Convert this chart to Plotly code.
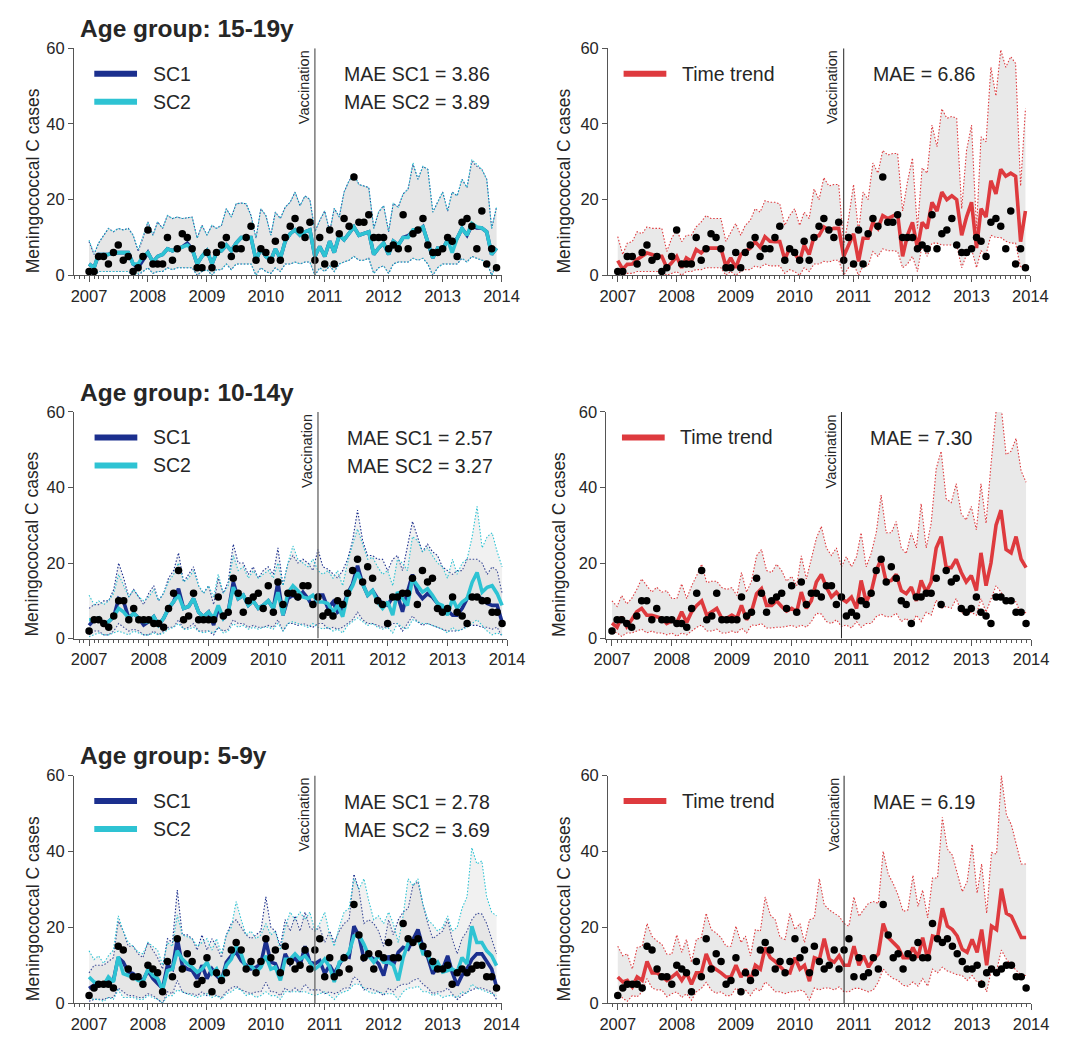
import pandas as pd
import plotly.graph_objects as go

# ---------------------------------------------------------------- data
months = pd.date_range("2007-01-01", periods=84, freq="MS")
vaccination_date = "2010-11-01"

# 15-19 years
obs_15_19 = [1, 1, 5, 5, 3, 6, 8, 4, 5, 1, 2, 5,
             12, 3, 3, 3, 10, 4, 7, 11, 10, 7, 2, 2,
             6, 2, 6, 8, 10, 5, 7, 7, 10, 13, 4, 7,
             6, 4, 9, 4, 10, 13, 15, 12, 10, 14, 4, 10,
             3, 12, 3, 11, 15, 13, 26, 14, 14, 16, 10, 10,
             10, 7, 8, 7, 16, 7, 11, 12, 15, 8, 6, 6,
             7, 10, 9, 5, 14, 15, 13, 7, 17, 3, 7, 2]
sc1_15_19 = [3, 2, 5.5, 5.5, 5.5, 6, 6, 6, 6, 3, 2, 4,
             6, 3.5, 5, 5.5, 7, 6.5, 7, 7.5, 8.5, 7, 3, 5,
             6.5, 3, 6, 6.5, 8, 6.5, 8.5, 10, 10, 10, 4, 7,
             5, 4, 7, 4.5, 9, 11, 12, 10.6, 11.5, 12, 5, 7.6,
             5, 9, 6, 10.6, 9.4, 11, 12.8, 10.6, 11, 11.5, 5.5, 7.2,
             8.5, 5.5, 9, 8, 10, 10.5, 11.5, 11.5, 12.8, 8.5, 4.6, 7.2,
             6.8, 9.4, 8.5, 9.8, 12.4, 10.6, 13.2, 12.5, 12.5, 11.5, 5.5, 7.2]
sc2_15_19 = [3, 2, 5.5, 5.5, 5.5, 6, 6, 6, 6, 3, 3, 5,
             6, 3.5, 5, 5.5, 7, 6.5, 7, 7.5, 8, 7, 3, 5,
             6.5, 3, 6, 6.5, 8, 6.5, 8.5, 10, 10, 10, 4, 7,
             5, 4, 7, 4.5, 9, 11, 12, 10.6, 11.5, 12, 5, 7.6,
             5, 9, 6, 10.6, 9.4, 11, 12.8, 10.6, 11, 11.5, 5.5, 7.2,
             8.5, 5.5, 9, 8, 10, 10, 12, 12, 12.8, 8.5, 4.6, 7.2,
             6.8, 9.4, 6, 9.8, 12.4, 10.6, 13.7, 12.8, 12.5, 11.5, 5.5, 7.2]
sc1_hi_15_19 = [8.9, 5.5, 8.5, 10.6, 12.4, 11.5, 12.4, 12, 12.4, 10.6, 6.3, 9.8,
                14.1, 10.6, 14.1, 12.4, 15.8, 15, 15.4, 15, 15.2, 15.4, 9.8, 13.2,
                10.6, 13.2, 12.4, 13.2, 17.6, 15.4, 18.9, 19.1, 18.9, 15.8, 9.8, 17.6,
                15.8, 10.6, 16.7, 15, 18, 19.3, 22, 18.4, 21, 20, 11.5, 14.5,
                17, 11.5, 17.7, 15.4, 22, 25, 26.7, 24, 23.6, 23.2, 12.4, 16.7,
                18.4, 11.5, 19, 18, 21.5, 22.8, 29.3, 25.4, 28.8, 28, 16.7, 19.3,
                22, 17, 22, 21, 25.4, 23.2, 30.1, 28.8, 28, 25.4, 12.4, 18]
sc2_hi_15_19 = [9.3, 5.8, 8.5, 10.6, 12.4, 11.5, 12.4, 12, 12.4, 10.6, 6.8, 10.2,
                14.1, 10.6, 14.1, 12.4, 15.8, 15, 15.4, 15, 15.2, 15.4, 9.8, 13.2,
                10.6, 13.2, 12.4, 13.2, 17.6, 15.4, 18.9, 19.1, 18.9, 15.8, 9.8, 17.6,
                15.8, 10.6, 16.7, 15, 18, 19.3, 22, 18.4, 21, 20, 11.5, 14.5,
                17, 11.5, 17.7, 15.4, 22, 25, 26.7, 24, 23.6, 23.2, 12.4, 16.7,
                18.4, 11.5, 19, 18, 21.5, 22.8, 29.8, 25.4, 28.8, 28, 16.7, 19.3,
                22, 17, 22, 21, 25.4, 23.2, 30.6, 29.3, 28, 25.4, 12.4, 18]
sc1_lo_15_19 = [1, 0, 1, 1, 1, 1, 1, 1, 1, 0, 0, 1,
                2, 0.5, 1, 1, 2, 1.5, 2, 2, 2, 2, 0, 1,
                1.5, 0, 1.5, 1.5, 3, 1.5, 3, 3, 3, 3, 0, 2,
                1, 0.5, 2, 1, 3, 3, 3.5, 3, 3.5, 3.5, 0, 2,
                1, 2.5, 1, 3, 3.5, 4, 5, 4, 4, 4.5, 0.5, 2,
                2.5, 0.5, 3, 3.5, 3.5, 3.5, 4.5, 4, 4.5, 3, 0, 2,
                3, 3, 3, 3, 4.5, 3.5, 5, 4.5, 4, 3.5, 0, 3]
sc2_lo_15_19 = [1, 0, 1, 1, 1, 1, 1, 1, 1, 0, 0.5, 1,
                2, 0.5, 1, 1, 2, 1.5, 2, 2, 2, 2, 0, 1,
                1.5, 0, 1.5, 1.5, 3, 1.5, 3, 3, 3, 3, 0, 2,
                1, 0.5, 2, 1, 3, 3, 3.5, 3, 3.5, 3.5, 0, 2,
                1, 2.5, 1, 3, 3.5, 4, 5, 4, 4, 4.5, 0.5, 2,
                2.5, 0.5, 3, 3.5, 3.5, 3.5, 4.5, 4, 4.5, 3, 0, 2,
                3, 3, 3, 3, 4.5, 3.5, 5, 4.5, 4, 3.5, 0, 3]
tt_15_19 = [3.9, 1.6, 2.9, 3, 4.2, 5, 5.9, 5.5, 5, 5, 2, 3.3,
            5, 2, 4.6, 3.7, 6.8, 5.9, 7.2, 7.2, 7.2, 7.2, 2.4, 4.6,
            2, 5.5, 6.3, 7.2, 8.9, 7.4, 10.2, 9, 8.9, 8.9, 4.2, 7.2,
            5.9, 3.7, 8, 5.5, 10.2, 10.5, 12.8, 12, 12.4, 12.4, 5, 8,
            11, 3.7, 9.8, 9.8, 14, 12.4, 15.8, 15, 15.8, 16.3, 5, 10.6,
            14, 7.2, 14, 12.4, 19.3, 17, 22, 20, 21, 20, 10.6, 15.4,
            19.3, 7.2, 17.6, 15.4, 25, 21.5, 28, 26.2, 27, 26.2, 8.9, 17]
tt_hi_15_19 = [10.2, 5.5, 8.5, 8.9, 11.5, 11, 12.8, 12.4, 12.4, 12.4, 6.3, 9.8,
               12, 8.9, 10.6, 10.6, 12.8, 14.1, 15.8, 15, 15, 15, 9, 11.5,
               13.7, 10.6, 13.2, 14.5, 17.6, 16.7, 19.7, 19.3, 19.3, 18.9, 13.2, 15.8,
               17.6, 13.2, 16.7, 15, 22.8, 20, 25.8, 23.6, 24, 24, 8, 15,
               24, 11.5, 22, 20, 29.7, 27, 33, 31.8, 32.2, 32.2, 17, 24.7,
               31, 12.4, 28.4, 27, 39.7, 34, 44, 41.5, 42, 41.5, 17.6, 33,
               39.7, 12.4, 36.6, 35.3, 55, 47.4, 59.6, 55, 57.8, 56, 23.6, 44]
tt_lo_15_19 = [0.5, 0, 0.5, 0.5, 1, 1, 1, 1, 1, 1, 0, 0.5,
               1, 0, 1, 1, 1.5, 1.5, 2, 2, 2, 2, 0, 1,
               0, 1, 1.5, 1.5, 2.5, 2, 3, 2.5, 2.5, 2.5, 0.5, 1.5,
               1, 0, 2, 1, 3, 3, 3.7, 3.5, 4, 4, 0, 2,
               3, 0, 2.5, 2.5, 6.3, 5, 7, 6.5, 6.5, 6.3, 2, 3,
               5, 1, 8, 5, 8.5, 8.5, 8, 8, 8, 8, 2, 5.5,
               7, 2, 6.5, 5.5, 10.6, 10, 10, 9, 8.5, 8.5, 2, 3]

# 10-14 years
obs_10_14 = [2, 5, 5, 4, 3, 6, 10, 10, 5, 8, 5, 5,
             5, 4, 4, 3, 8, 12, 18, 5, 6, 12, 5, 5,
             5, 5, 11, 6, 7, 16, 12, 7, 10, 11, 12, 8,
             14, 7, 15, 9, 12, 12, 11, 14, 14, 9, 11, 6,
             7, 6, 10, 9, 12, 18, 21, 15, 19, 16, 10, 9,
             4, 11, 11, 12, 12, 16, 9, 18, 15, 16, 8, 7,
             8, 11, 7, 6, 4, 11, 11, 10, 10, 7, 7, 4]
sc1_10_14 = [3.5, 5, 5.5, 3.8, 4.5, 5.8, 10.6, 9.7, 5.4, 6.7, 5.4, 3.6,
             4.5, 5.8, 3.6, 5.4, 8, 9.7, 13.2, 8, 8.5, 10.6, 7, 5.8,
             7, 3.6, 8, 5.4, 7, 15, 10.6, 11.5, 8.8, 10, 8, 8.8,
             10, 8, 15, 6.2, 10.6, 11.5, 10.6, 12.3, 10.6, 8.4, 11.5, 11.5,
             8, 9.7, 7, 8, 11.9, 14.5, 19.3, 14.5, 11.5, 12.7, 10.6, 9.3,
             8.8, 11, 11.5, 7.1, 12.3, 17, 12.3, 10.6, 11.9, 11, 9.3, 8,
             7.5, 6.2, 6.2, 8, 10.6, 11, 11, 10.6, 9.3, 8.8, 8.8, 4.3]
sc2_10_14 = [5, 5, 5.5, 3.8, 4.5, 5.8, 8, 7, 5.4, 6.7, 5.4, 4.5,
             4.5, 5.8, 3.6, 5.4, 8, 9.7, 11.5, 8, 8.5, 10.6, 7, 5.8,
             7, 5.4, 8.8, 5.4, 7, 13.6, 10.6, 11.5, 8.8, 10, 8, 8.8,
             10, 8, 12.3, 6.2, 12.1, 14, 12.7, 11, 10.6, 11.5, 9.7, 9.7,
             9.3, 7, 8.8, 5.8, 11.5, 14, 17.5, 14.5, 11.5, 12.7, 9.7, 8,
             9.7, 6.2, 12.3, 10.6, 8.8, 15.8, 14, 12.3, 13.2, 11.5, 9.3, 8.8,
             6.2, 10.6, 8, 9.7, 10.6, 14.9, 17.5, 12.3, 13.6, 14, 11.9, 8.8]
sc1_hi_10_14 = [8, 9, 9, 10, 10, 13, 20, 16, 11, 13, 11, 9,
                12, 14, 10, 12, 16, 18, 22.7, 15, 17, 19, 14, 12,
                14, 9, 16, 12, 15, 25, 20, 20, 17, 19, 16, 18,
                19, 17, 24, 14, 20, 22, 20, 21, 20, 18, 23.6, 19,
                18.4, 17, 16, 18, 21, 26, 34, 26, 22, 22, 21, 21,
                18, 21, 22, 18, 24, 31, 27, 23, 25, 23, 22, 19,
                18, 17, 18, 18, 21, 21, 21, 20, 17, 19, 18, 12]
sc2_hi_10_14 = [11.5, 9, 10, 9, 10, 12, 17, 14, 11, 13, 11, 10,
                11, 13, 10, 12, 15, 17, 20, 15, 16, 18, 14, 12,
                14, 11, 17, 12, 14, 22, 18, 19, 16, 18, 16, 17,
                18, 16, 20, 14, 20, 24.5, 21, 20, 19, 21, 18, 17,
                18, 16, 18, 14, 20, 25, 29, 25, 21, 21.5, 19, 17,
                18, 14, 21, 20, 18, 27, 26, 23, 24, 22, 20, 19,
                16, 21, 17, 20, 21, 27, 35, 24, 27, 28, 23, 19]
sc1_lo_10_14 = [1, 2, 2, 1, 1, 2, 4, 3, 2, 2.5, 2, 1,
                1, 2, 1, 2, 3, 3, 5, 2.5, 3, 4, 2, 2,
                2, 1, 3, 2, 2.5, 5, 4, 4, 3, 3.5, 3, 3,
                3.5, 3, 5, 2, 4, 4, 3.5, 4, 3.5, 3, 4, 4,
                2.5, 3, 2.5, 3, 4, 5, 7, 5, 4, 4, 3.5, 3,
                3, 4, 4, 2, 4, 6, 4.5, 3.5, 4, 3.5, 3, 2.5,
                2, 2, 2, 2.5, 3.5, 3.5, 3.5, 3, 3, 2.5, 3, 0.5]
sc2_lo_10_14 = [0.5, 1, 1.5, 1, 1, 1.5, 2, 1.5, 1, 2, 1.5, 1,
                1, 1.5, 1, 1.5, 2.5, 3, 4, 2.5, 2.5, 3, 2, 1.5,
                2, 1.5, 3, 1.5, 2, 4, 3, 3.5, 2.5, 3, 2.5, 3,
                3, 2.5, 4, 2, 4, 4.5, 4, 3.5, 3, 4, 3, 2.5,
                3, 2, 2.5, 1.5, 3.5, 4.5, 5.5, 4.5, 3.5, 4, 3, 2.5,
                3, 1.5, 4, 3, 2.5, 5, 4.5, 4, 4, 3.5, 3, 2.5,
                1.5, 3, 2, 2.5, 3, 4, 5, 3.5, 2, 1, 1.5, 1]
tt_10_14 = [4.1, 3, 5.8, 3.2, 5, 7.1, 8, 6.2, 6.2, 5.8, 5.4, 4,
            4.7, 4.3, 7.1, 4.3, 7.1, 8.8, 10, 6.2, 7.1, 8, 5.4, 5.4,
            6.2, 5.4, 8.8, 5, 7.1, 11.9, 13.2, 8.8, 8.8, 10, 8.5, 7.3,
            8, 7.1, 12.3, 8, 10, 15, 17, 13.6, 11, 12.3, 10.6, 9.7,
            11, 8, 15.4, 9.7, 12.3, 18, 21, 15, 15.4, 17, 12.7, 11.9,
            13.6, 10, 15.4, 12.3, 15, 24, 27, 18.8, 18.8, 21, 17.5, 15,
            16.7, 12.7, 22.7, 14, 20, 30, 34, 23.6, 22.7, 27, 21, 18.8]
tt_hi_10_14 = [10, 8.5, 11.4, 9.2, 10.6, 13, 15.8, 14, 12.3, 13.6, 12.3, 12.7,
               10.6, 10.6, 14.5, 10.6, 14, 16.7, 19.7, 14.8, 15.2, 15.2, 13.5, 13,
               13.5, 11.4, 17.5, 12.3, 15.2, 21.9, 23.6, 18, 17.5, 19.7, 18, 15.2,
               16.5, 14, 21.9, 15.8, 21.5, 26.6, 29.7, 24, 22, 24, 19, 21.7,
               19, 21.7, 28, 19, 22.5, 28, 38, 28, 28, 31, 24, 22.5,
               28, 24, 35.7, 24, 30.5, 45, 49.6, 37, 36, 41, 33, 31.4,
               35, 28.8, 41, 30.5, 46, 60, 62, 48.7, 49.6, 53, 44.4, 41.4]
tt_lo_10_14 = [2, 1.5, 0.6, 1.5, 1.5, 2, 2.5, 1.5, 2, 1.5, 1.5, 1,
               1.5, 0.6, 1.5, 1, 2, 3, 3.6, 2, 2, 2.5, 1.5, 1.5,
               2, 1.5, 2.8, 1.5, 3.6, 3.5, 4, 2.8, 2.8, 3, 3, 3.2,
               3.5, 3, 3.6, 3, 4.5, 6.7, 6.5, 4.5, 4, 5, 3.2, 3.6,
               2.8, 4.5, 3, 4, 4, 5.8, 6.5, 5.8, 5.8, 6.7, 4.5, 5.4,
               3.6, 6.2, 4.5, 7, 6.2, 10.2, 8, 8.5, 8, 10.6, 7, 6.2,
               7, 6.2, 10.6, 7, 10.6, 14, 12.3, 9.7, 10.2, 9.7, 6.2, 7]

# 5-9 years
obs_5_9 = [2, 4, 5, 5, 5, 4, 15, 14, 9, 7, 7, 5,
           10, 9, 8, 3, 11, 7, 17, 9, 13, 11, 5, 6,
           12, 3, 8, 6, 8, 14, 16, 14, 9, 11, 8, 11,
           17, 12, 14, 8, 15, 11, 9, 10, 14, 9, 14, 17,
           7, 12, 7, 8, 12, 9, 26, 18, 12, 13, 9, 13,
           12, 16, 12, 12, 21, 17, 16, 17, 15, 13, 11, 9,
           9, 10, 5, 8, 9, 8, 9, 10, 10, 7, 7, 4]
sc1_5_9 = [3.9, 4.8, 4.7, 4.8, 5.6, 6, 12, 10.8, 8.2, 7.8, 6.5, 6,
           8.6, 6.5, 5.2, 3.9, 10, 9, 17, 10, 9, 8.6, 6.5, 10,
           6.5, 9, 7.3, 6, 10.8, 12.5, 13.4, 11.2, 10, 9, 9.5, 10.4,
           16.4, 10.8, 10.4, 7.3, 13, 10.4, 12, 10, 15, 10.8, 10.4, 11.2,
           7.8, 10, 7.8, 10, 12.5, 12.1, 20.3, 17.7, 11.6, 12.5, 11.6, 10.4,
           7.3, 12.5, 10, 13.4, 14.7, 14.2, 16.8, 19.4, 14.7, 12.1, 7.8, 9.5,
           9, 12.5, 8.2, 4.7, 7.3, 9, 11.6, 13, 13, 11.2, 9, 4.3]
sc2_5_9 = [6.9, 5.6, 5.2, 4.7, 6.9, 5.6, 12.3, 7.8, 7.3, 6.9, 6, 5.6,
           9, 7.3, 6.5, 3.5, 8.6, 9, 13.8, 11.6, 10.4, 9.5, 8.2, 9,
           10.8, 7.8, 9, 5.6, 10, 11.6, 15, 13, 9, 10, 8.2, 9.5,
           12.5, 9, 9.5, 6, 11.6, 11.6, 13, 11.6, 12.5, 10.8, 9, 10,
           11.6, 9.5, 5.6, 10.8, 11.6, 13.4, 17.7, 18, 15.5, 12.5, 10.8, 12.5,
           10.8, 10.8, 10, 6, 12, 15.8, 15.8, 17.3, 13, 12.9, 9.5, 10.8,
           8.2, 8.6, 9, 8.2, 12, 10.4, 20.3, 16, 16, 13.8, 12.5, 9.9]
sc1_hi_5_9 = [8, 10, 10, 10, 11, 12, 21.6, 19, 15, 15, 13, 12,
              16, 14, 12, 9, 17, 16, 29.8, 18, 18, 17, 14, 18,
              14, 17, 15, 12, 18, 21, 22, 20, 18, 17, 18, 19,
              28, 20, 19, 15, 22, 19, 23, 19, 24, 20, 19, 20,
              16, 19, 16, 19, 21, 22, 34, 30, 21, 22, 21, 19,
              15, 22, 18, 22, 24, 25, 31, 32, 26, 21, 17, 18,
              19, 22, 17, 13, 17, 19, 22, 23.7, 23.5, 21, 17, 13]
sc2_hi_5_9 = [13.8, 11.5, 12.5, 10.5, 12.5, 14, 23, 19, 16, 15, 13.5, 13,
              16, 15, 14, 10, 16, 15, 23.3, 18, 17.5, 17, 15, 16,
              17, 14, 17, 13, 18, 20, 26.8, 22, 18, 19, 17, 18,
              21, 18, 19, 14, 20, 24, 22, 24, 22, 24, 19, 21,
              24, 18, 15, 20, 24, 25, 32.8, 30, 32.8, 27, 22, 23,
              21, 24, 21, 16, 23, 32.8, 31, 32.8, 26, 22, 20.7, 19,
              20, 23, 19, 20, 25, 28, 41, 36.7, 37.5, 28, 24, 23]
sc1_lo_5_9 = [0.5, 1, 1, 1, 1.5, 1.5, 4, 3, 2, 2, 1.5, 1.5,
              2.5, 2, 1, 0, 3, 2.5, 6, 3, 2.5, 2.5, 2, 3,
              2, 2.5, 2, 1.5, 3, 4, 4.5, 3.5, 3, 2.5, 3, 3,
              5.5, 3, 3, 2, 4, 3, 4, 3, 5, 3.5, 3.5, 3.5,
              2.5, 3, 2.5, 3, 4, 4, 7, 6, 3.5, 4, 3.5, 3,
              2, 4, 3, 4.5, 5, 5, 6, 6.5, 5, 4, 2.5, 3,
              3, 4, 2.5, 1, 2, 3, 3.5, 4, 4, 3.5, 3, 1]
sc2_lo_5_9 = [1.5, 1, 1, 0.5, 1.5, 1, 3.5, 1.5, 1.5, 1.5, 1, 1,
              2, 1.5, 1, 0, 2, 2, 3.5, 3, 2.5, 2, 1.5, 2,
              2.5, 1.5, 2, 1, 2.5, 3, 4, 3.5, 2, 2.5, 1.5, 2,
              3, 2, 2, 1, 3, 3, 3, 3, 3, 2.5, 2, 2.5,
              3, 2, 1, 2.5, 3, 3.5, 5, 5, 4, 3, 2.5, 3,
              2.5, 2.5, 2.5, 1, 3, 4, 4, 4.5, 3, 3, 2, 2.5,
              1.5, 2, 2, 1.5, 3, 2.5, 5, 4, 3.5, 3, 2.5, 2]
tt_5_9 = [6.9, 5.6, 6, 4.3, 6.9, 6, 11, 8, 8, 6.9, 6, 6.9,
          8, 6, 8, 5, 8, 8, 13, 9.8, 9, 8, 6.9, 6.9,
          10, 6.9, 9, 6, 10, 9, 14.7, 12, 11, 9.8, 8.3, 8,
          12, 9, 10, 5.8, 12, 11.5, 17, 11.6, 10.8, 12.5, 10, 10,
          15, 10, 12.5, 9.5, 11.6, 13, 21, 17.3, 16, 14.7, 12, 12,
          14.7, 12, 17.3, 11.6, 17.7, 17.3, 25, 20.3, 19.4, 17.7, 14.2, 13.4,
          16.8, 13.4, 19.4, 10, 20.3, 19.4, 30.2, 23.7, 22.9, 20.3, 17.3, 17.3]
tt_hi_5_9 = [15, 12.5, 13, 9, 14.7, 15, 21, 17.6, 16.4, 15.5, 12.9, 12.9,
             18, 13.4, 16.8, 10.8, 16.8, 17.3, 23.7, 19.4, 18.5, 17.3, 15, 15,
             20.3, 16, 17.7, 12.5, 19.4, 19, 28, 23.3, 22, 17.3, 16.8, 23.7,
             19.4, 21, 16, 22, 22.5, 32.8, 26, 24.6, 23.7, 22.9, 21, 20.3,
             28, 22.9, 24.6, 26.3, 26.8, 26.3, 40, 34, 31.5, 28.5, 24.2, 24.6,
             33.7, 25.5, 29.8, 22.5, 33, 33, 49, 40.6, 39, 34, 29.4, 32,
             41.9, 29, 36.7, 23.7, 39.7, 39.3, 60, 49.7, 47, 41.9, 36.7, 36.7]
tt_lo_5_9 = [3, 1.3, 0.5, 2, 1.7, 3, 6.5, 4, 3.5, 3.5, 1.7, 2.5,
             3, 1.5, 2.5, 0.8, 3, 3.9, 5.5, 3.5, 2.6, 3, 2, 2,
             4, 3, 3.5, 2, 3.9, 3.2, 5.6, 4.5, 3, 3, 2.5, 3,
             3, 3.5, 3, 0.8, 4, 3.5, 4, 4, 3.5, 4.3, 3, 3,
             3.9, 3.9, 3.5, 3, 3.5, 5.6, 9, 7.5, 6.5, 6, 4.7, 4.5,
             5.6, 4.5, 6.5, 4.5, 9, 8, 9.5, 8.5, 8, 7.5, 7.3, 6,
             7.3, 5.5, 6, 3, 9, 8.5, 14, 11.6, 10, 8.6, 7.3, 7.3]

age_titles = ["Age group: 15-19y", "Age group: 10-14y", "Age group: 5-9y"]
mae_sc1 = ["3.86", "2.57", "2.78"]
mae_sc2 = ["3.89", "3.27", "3.69"]
mae_tt = ["6.86", "7.30", "6.19"]

# ---------------------------------------------------------------- styling
W, H = 1077, 1041
FONT = "Liberation Sans, Arial, Helvetica, sans-serif"
TXT = "#262626"
AX = "#555555"
C_SC1 = "#1b2f8e"
C_SC2 = "#2ec3d3"
C_TT = "#de3a3e"
BAND_SC = "rgba(190,190,190,0.22)"
BAND_TT = "rgba(190,190,190,0.34)"
BOUND_DASH = "1.5px,1.8px"


def fx(p):
    return p / W


def fy(p):
    return 1 - p / H


rows = [
    dict(obs=obs_15_19, sc1=sc1_15_19, sc2=sc2_15_19,
         sc1_hi=sc1_hi_15_19, sc2_hi=sc2_hi_15_19,
         sc1_lo=sc1_lo_15_19, sc2_lo=sc2_lo_15_19,
         tt=tt_15_19, tt_hi=tt_hi_15_19, tt_lo=tt_lo_15_19),
    dict(obs=obs_10_14, sc1=sc1_10_14, sc2=sc2_10_14,
         sc1_hi=sc1_hi_10_14, sc2_hi=sc2_hi_10_14,
         sc1_lo=sc1_lo_10_14, sc2_lo=sc2_lo_10_14,
         tt=tt_10_14, tt_hi=tt_hi_10_14, tt_lo=tt_lo_10_14),
    dict(obs=obs_5_9, sc1=sc1_5_9, sc2=sc2_5_9,
         sc1_hi=sc1_hi_5_9, sc2_hi=sc2_hi_5_9,
         sc1_lo=sc1_lo_5_9, sc2_lo=sc2_lo_5_9,
         tt=tt_5_9, tt_hi=tt_hi_5_9, tt_lo=tt_lo_5_9),
]

# pixel frame of every panel: (left, right, top, bottom, axis start date)
frames = [
    [(62.7, 503.0, 40, 271.0, "2006-09-29"), (612.7, 1047.6, 40, 271.0, "2006-11-02")],
    [(63.0, 508.8, 410, 640.7, "2006-10-02"), (611.0, 1048.3, 410, 640.7, "2006-11-28")],
    [(62.7, 503.0, 780, 1011.7, "2006-09-29"), (612.7, 1048.3, 780, 1011.7, "2006-11-02")],
]
ytitle_x = [(20, 567), (20, 562), (20, 567)]

fig = go.Figure()
layout = dict(
    width=W, height=H,
    margin=dict(l=0, r=0, t=0, b=0),
    paper_bgcolor="white", plot_bgcolor="white",
    showlegend=False,
    font=dict(family=FONT, color=TXT),
)
annotations = []
shapes = []


def band(lo, hi, color, fill, xa, ya):
    common = dict(x=months, mode="lines", xaxis=xa, yaxis=ya,
                  hoverinfo="skip", showlegend=False,
                  line=dict(color=color, width=1.1, dash=BOUND_DASH))
    fig.add_trace(go.Scatter(y=lo, **common))
    fig.add_trace(go.Scatter(y=hi, fill="tonexty", fillcolor=fill, **common))


k = 0
for r, row in enumerate(rows):
    for c in range(2):
        k += 1
        left, right, top, bottom, start = frames[r][c]
        xa, ya = f"x{k}", f"y{k}"
        xkey, ykey = f"xaxis{k}", f"yaxis{k}"
        layout[xkey] = dict(
            domain=[fx(left), fx(right)], anchor=ya, type="date",
            range=[start, "2014-01-01"],
            tick0="2007-01-01", dtick="M12", tickformat="%Y",
            showline=True, linecolor=AX, linewidth=1,
            ticks="outside", ticklen=6, tickcolor=AX,
            minor=dict(dtick="M1", tick0="2007-01-01", ticks="outside",
                       ticklen=3, tickcolor=AX),
            showgrid=False, zeroline=False,
            tickfont=dict(size=16.5, color=TXT, family=FONT),
        )
        layout[ykey] = dict(
            domain=[fy(bottom), fy(top)], anchor=xa,
            range=[0, 60], tickvals=[0, 20, 40, 60],
            showline=True, linecolor=AX, linewidth=1,
            ticks="outside", ticklen=5, tickcolor=AX,
            showgrid=False, zeroline=False,
            tickfont=dict(size=16.5, color=TXT, family=FONT),
        )

        if c == 0:
            band(row["sc1_lo"], row["sc1_hi"], C_SC1, BAND_SC, xa, ya)
            band(row["sc2_lo"], row["sc2_hi"], C_SC2, BAND_SC, xa, ya)
            fig.add_trace(go.Scatter(x=months, y=row["sc1"], mode="lines",
                                     line=dict(color=C_SC1, width=3.6),
                                     xaxis=xa, yaxis=ya, showlegend=False))
            fig.add_trace(go.Scatter(x=months, y=row["sc2"], mode="lines",
                                     line=dict(color=C_SC2, width=3.6),
                                     xaxis=xa, yaxis=ya, showlegend=False))
        else:
            band(row["tt_lo"], row["tt_hi"], C_TT, BAND_TT, xa, ya)
            fig.add_trace(go.Scatter(x=months, y=row["tt"], mode="lines",
                                     line=dict(color=C_TT, width=3.6),
                                     xaxis=xa, yaxis=ya, showlegend=False))

        fig.add_trace(go.Scatter(x=months, y=row["obs"], mode="markers",
                                 marker=dict(color="black", size=7.5),
                                 xaxis=xa, yaxis=ya, showlegend=False))

        # vaccination marker line and label
        shapes.append(dict(type="line", xref=xa, yref=ya,
                           x0=vaccination_date, x1=vaccination_date, y0=0, y1=60,
                           line=dict(color="#707070" if c == 0 else "#222222",
                                     width=1.4 if c == 0 else 1)))
        annotations.append(dict(text="Vaccination", xref=xa, yref=ya,
                                x=vaccination_date, y=60, textangle=-90,
                                xanchor="right", yanchor="top", xshift=-1,
                                showarrow=False,
                                font=dict(size=14.5, color=TXT, family=FONT)))

        # y-axis title
        annotations.append(dict(text="Meningococcal C cases", xref="paper", yref="paper",
                                x=fx(ytitle_x[r][c]), y=fy(bottom), textangle=-90,
                                xanchor="center", yanchor="bottom", showarrow=False,
                                font=dict(size=17.5, color=TXT, family=FONT)))

        # legend entries and error summaries
        if c == 0:
            legend_rows = [("SC1", C_SC1), ("SC2", C_SC2)]
            sx0, sx1, tx = left + 21, left + 65, left + 79
            mx = 338.5 if r != 1 else 341.5
            mae_lines = [f"MAE SC1 = {mae_sc1[r]}", f"MAE SC2 = {mae_sc2[r]}"]
        else:
            legend_rows = [("Time trend", C_TT)]
            sx0, sx1, tx = left + 16, left + 60, left + 74
            mx = 883 if r != 1 else 880
            mae_lines = [f"MAE = {mae_tt[r]}"]
        for i, (name, col) in enumerate(legend_rows):
            ly = top + 26 + 28.5 * i
            shapes.append(dict(type="line", xref="paper", yref="paper",
                               x0=fx(sx0), x1=fx(sx1), y0=fy(ly), y1=fy(ly),
                               line=dict(color=col, width=6)))
            annotations.append(dict(text=name, xref="paper", yref="paper",
                                    x=fx(tx), y=fy(ly), xanchor="left",
                                    yanchor="middle", showarrow=False,
                                    font=dict(size=19.5, color=TXT, family=FONT)))
        for i, txt in enumerate(mae_lines):
            annotations.append(dict(text=txt, xref="paper", yref="paper",
                                    x=fx(mx), y=fy(top + 26.5 + 28.5 * i),
                                    xanchor="left", yanchor="middle", showarrow=False,
                                    font=dict(size=19.5, color=TXT, family=FONT)))

    # row heading
    annotations.append(dict(text=f"<b>{age_titles[r]}</b>", xref="paper", yref="paper",
                            x=fx(67), y=fy(frames[r][0][2] - 20), xanchor="left",
                            yanchor="middle", showarrow=False,
                            font=dict(size=24.5, color=TXT, family=FONT)))

layout["annotations"] = annotations
layout["shapes"] = shapes
fig.update_layout(**layout)
fig.write_html("out.html")
